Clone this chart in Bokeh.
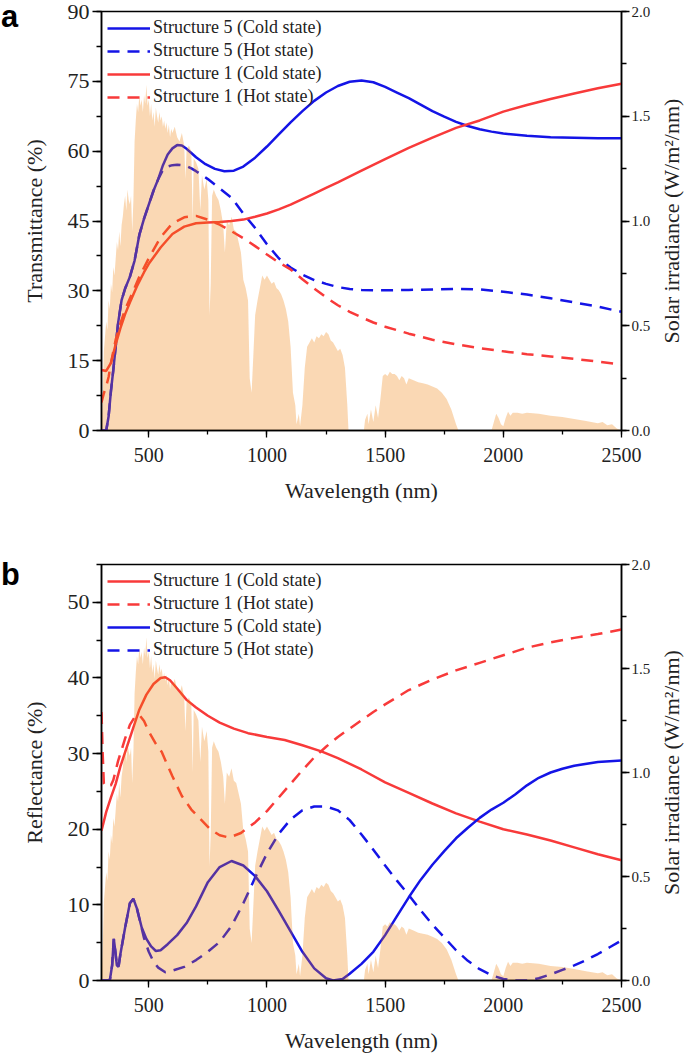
import math
from bokeh.plotting import figure
from bokeh.models import (Range1d, LinearAxis, SingleIntervalTicker, Label, Legend,
                          LegendItem, NumeralTickFormatter, Div)
from bokeh.layouts import column, row
from bokeh.embed import file_html
from bokeh.resources import INLINE

# ---------------- data ----------------
solar_wl = [
    300, 305, 310, 315, 320, 325, 330, 335, 340, 345,
    350, 355, 360, 365, 370, 375, 380, 385, 390, 395,
    400, 405, 410, 415, 420, 425, 430, 435, 440, 445,
    450, 455, 460, 465, 470, 475, 480, 485, 490, 495,
    500, 505, 510, 515, 520, 525, 530, 535, 540, 545,
    550, 555, 560, 565, 570, 575, 580, 585, 590, 595,
    600, 610, 620, 630, 640, 650, 655, 660, 670, 680,
    686, 690, 700, 710, 718, 725, 735, 745, 752, 757,
    762, 768, 775, 785, 795, 805, 815, 822, 830, 840,
    850, 860, 870, 880, 890, 900, 910, 920, 927, 935,
    942, 950, 960, 970, 980, 990, 1000, 1010, 1020, 1030,
    1040, 1050, 1060, 1070, 1080, 1090, 1100, 1110, 1120, 1125,
    1135, 1140, 1150, 1160, 1170, 1180, 1190, 1200, 1210, 1220,
    1230, 1240, 1250, 1260, 1270, 1280, 1290, 1300, 1310, 1320,
    1330, 1340, 1345, 1410, 1415, 1425, 1430, 1440, 1450, 1460,
    1470, 1480, 1490, 1500, 1510, 1520, 1530, 1540, 1550, 1560,
    1570, 1580, 1590, 1600, 1620, 1640, 1660, 1680, 1700, 1720,
    1740, 1760, 1780, 1800, 1810, 1950, 1960, 1970, 1980, 1990,
    2000, 2010, 2020, 2030, 2040, 2060, 2080, 2100, 2150, 2200,
    2250, 2300, 2350, 2400, 2420, 2440, 2460, 2480, 2500]
solar_irr = [
    0.00, 0.15, 0.38, 0.45, 0.52, 0.48, 0.62, 0.58, 0.70, 0.66,
    0.78, 0.74, 0.82, 0.90, 0.86, 0.95, 0.88, 0.98, 1.02, 1.08,
    1.12, 1.05, 1.15, 1.10, 1.08, 1.12, 0.95, 1.10, 1.38, 1.48,
    1.56, 1.52, 1.60, 1.55, 1.58, 1.52, 1.60, 1.56, 1.65, 1.55,
    1.58, 1.50, 1.56, 1.48, 1.52, 1.45, 1.54, 1.50, 1.47, 1.52,
    1.48, 1.50, 1.45, 1.48, 1.44, 1.47, 1.42, 1.46, 1.40, 1.44,
    1.42, 1.45, 1.40, 1.38, 1.42, 1.36, 1.20, 1.34, 1.36, 1.33,
    1.00, 1.30, 1.28, 1.25, 1.05, 1.22, 1.15, 1.20, 1.10, 0.55,
    0.70, 1.12, 1.15, 1.12, 1.10, 1.05, 0.98, 0.85, 1.00, 0.98,
    1.02, 0.96, 0.95, 0.90, 0.85, 0.72, 0.68, 0.62, 0.25, 0.18,
    0.35, 0.55, 0.62, 0.68, 0.74, 0.72, 0.74, 0.72, 0.70, 0.71,
    0.68, 0.67, 0.65, 0.62, 0.58, 0.52, 0.40, 0.18, 0.12, 0.03,
    0.08, 0.02, 0.12, 0.30, 0.40, 0.42, 0.44, 0.42, 0.45, 0.44,
    0.46, 0.45, 0.47, 0.46, 0.43, 0.42, 0.40, 0.38, 0.39, 0.36,
    0.30, 0.12, 0.00, 0.00, 0.05, 0.08, 0.03, 0.10, 0.04, 0.12,
    0.06, 0.15, 0.26, 0.27, 0.26, 0.28, 0.27, 0.27, 0.26, 0.24,
    0.26, 0.25, 0.22, 0.25, 0.24, 0.23, 0.225, 0.22, 0.21, 0.20,
    0.18, 0.15, 0.10, 0.03, 0.00, 0.00, 0.04, 0.08, 0.06, 0.03,
    0.02, 0.06, 0.09, 0.07, 0.085, 0.085, 0.08, 0.085, 0.08, 0.07,
    0.065, 0.055, 0.045, 0.035, 0.04, 0.025, 0.03, 0.01, 0.00]

# Panel a: transmittance (%)
t5_cold_wl = [300, 320, 330, 340, 350, 360, 370, 385, 400, 420,
              440, 460, 480, 500, 520, 540, 560, 580, 600, 620,
              640, 660, 680, 700, 740, 780, 820, 860, 900, 950,
              1000, 1050, 1100, 1150, 1200, 1250, 1300, 1350, 1400, 1450,
              1500, 1550, 1600, 1650, 1700, 1750, 1800, 1850, 1900, 1950,
              2000, 2100, 2200, 2300, 2400, 2500]
t5_cold = [0, 0, 3, 8.5, 13, 18, 23, 28, 30.5, 33,
           36.5, 42, 45.5, 48.5, 51.5, 54, 57, 59.3, 60.6, 61.3,
           61.2, 60.5, 59.6, 58.7, 57.2, 56.2, 55.7, 55.8, 56.7, 58.6,
           61, 63.6, 66.2, 68.6, 70.8, 72.6, 74, 74.9, 75.2, 74.8,
           73.8, 72.6, 71.4, 70, 68.6, 67.4, 66.3, 65.4, 64.7, 64.2,
           63.8, 63.3, 63.0, 62.9, 62.8, 62.8]

t5_hot_wl = [300, 320, 330, 340, 350, 360, 370, 385, 400, 420,
             440, 460, 480, 500, 520, 540, 560, 580, 600, 620,
             640, 660, 680, 700, 750, 800, 850, 900, 950, 1000,
             1050, 1100, 1150, 1200, 1250, 1300, 1350, 1400, 1500, 1600,
             1700, 1800, 1900, 2000, 2100, 2200, 2300, 2400, 2500]
t5_hot = [0, 0, 3, 8.5, 13, 18, 23, 28, 30.5, 33,
          36.5, 42, 45.5, 48.5, 51.5, 54, 56, 56.7, 57, 57.1,
          57, 56.8, 56.3, 55.7, 54, 52, 50, 46.6, 43.5, 40,
          37, 35, 33.5, 32.3, 31.5, 30.8, 30.4, 30.2, 30.1, 30.2,
          30.3, 30.4, 30.3, 29.8, 29.2, 28.4, 27.5, 26.6, 25.5]

t1_cold_wl = [300, 320, 340, 360, 380, 400, 420, 450, 480, 500,
              550, 600, 650, 700, 750, 800, 850, 900, 950, 1000,
              1050, 1100, 1150, 1200, 1250, 1300, 1400, 1500, 1600, 1700,
              1800, 1900, 2000, 2100, 2200, 2300, 2400, 2500]
t1_cold = [13, 12.8, 14.5, 18.5, 22, 25, 27.5, 31, 34, 35.8,
           39.3, 42.2, 43.8, 44.5, 44.7, 44.8, 45, 45.3, 45.9, 46.6,
           47.5, 48.5, 49.7, 50.9, 52.1, 53.3, 55.8, 58.3, 60.7, 62.9,
           65, 66.6, 68.5, 69.9, 71.2, 72.4, 73.5, 74.5]

t1_hot_wl = [300, 310, 320, 330, 340, 350, 360, 380, 400, 430,
             460, 500, 550, 600, 650, 700, 750, 800, 850, 900,
             950, 1000, 1050, 1100, 1150, 1200, 1250, 1300, 1350, 1400,
             1450, 1500, 1600, 1700, 1800, 1900, 2000, 2100, 2200, 2300,
             2400, 2500]
t1_hot = [6, 8, 9.5, 11.5, 14.5, 17, 19.5, 23, 26, 29.5,
          33, 37, 41.5, 44.5, 45.8, 46.1, 45.3, 44.2, 42.8, 41.3,
          39.6, 37.8, 36.1, 34.6, 32.5, 30.5, 28.6, 26.9, 25.5, 24.3,
          23.2, 22.3, 20.8, 19.5, 18.5, 17.7, 17.0, 16.4, 15.9, 15.4,
          14.8, 14.2]

# Panel b: reflectance (%)
r1_cold_wl = [300, 320, 340, 360, 380, 400, 430, 460, 490, 520,
              550, 570, 590, 620, 660, 700, 750, 800, 860, 920,
              1000, 1075, 1150, 1230, 1300, 1400, 1500, 1600, 1700, 1800,
              1900, 2000, 2100, 2200, 2300, 2400, 2500]
r1_cold = [19.8, 22.3, 24.2, 26, 28.3, 30.2, 33, 35.8, 37.8, 39.2,
           40, 40.1, 39.7, 38.6, 37.1, 36.1, 35, 34.1, 33.3, 32.7,
           32.2, 31.8, 31.1, 30.3, 29.4, 27.9, 26.2, 24.8, 23.4, 22.1,
           21, 20, 19.3, 18.5, 17.6, 16.7, 15.9]

r1_hot_wl = [300, 305, 310, 320, 340, 350, 370, 400, 420, 440,
             460, 480, 500, 530, 555, 600, 640, 680, 720, 760,
             800, 840, 890, 950, 1000, 1050, 1100, 1150, 1200, 1250,
             1300, 1350, 1400, 1450, 1500, 1600, 1700, 1800, 1900, 2000,
             2100, 2200, 2300, 2400, 2500]
r1_hot = [35.5, 30, 26, 25.6, 25.8, 26.5, 29, 32, 33.8, 34.8,
          35.1, 34.3, 32.9, 31.3, 30.2, 27, 24.4, 22.6, 21.3, 20,
          19.2, 18.9, 19.5, 20.9, 22.4, 24.2, 26, 27.8, 29.5, 30.9,
          32.2, 33.3, 34.4, 35.5, 36.5, 38.4, 39.8, 41, 42, 43,
          44, 44.7, 45.3, 45.8, 46.4]

r5_cold_wl = [300, 335, 345, 352, 358, 365, 372, 380, 400, 420,
              435, 450, 470, 490, 510, 530, 550, 580, 620, 660,
              700, 750, 800, 850, 900, 950, 1000, 1050, 1100, 1150,
              1200, 1250, 1280, 1320, 1350, 1400, 1450, 1500, 1550, 1600,
              1650, 1700, 1750, 1800, 1850, 1900, 1950, 2000, 2050, 2100,
              2150, 2200, 2250, 2300, 2400, 2500]
r5_cold = [0, 0, 2, 5.5, 4, 2, 1.8, 3.5, 7, 10.2,
           10.8, 9.5, 7, 5.5, 4.5, 3.9, 4, 4.8, 6, 7.6,
           9.8, 13, 15, 15.8, 15.2, 13.8, 11.8, 9.2, 6.5, 3.8,
           1.6, 0.3, 0, 0.2, 0.9, 2.2, 3.8, 6, 8.5, 11,
           13.3, 15.3, 17.1, 18.8, 20.2, 21.5, 22.6, 23.5, 24.6, 25.8,
           26.8, 27.5, 28, 28.4, 28.9, 29.1]

r5_hot_wl = [300, 335, 345, 352, 358, 365, 372, 380, 400, 420,
             435, 450, 460, 480, 500, 520, 540, 570, 600, 650,
             700, 750, 800, 850, 900, 950, 1000, 1050, 1100, 1150,
             1200, 1250, 1300, 1350, 1400, 1450, 1500, 1550, 1600, 1650,
             1700, 1750, 1800, 1850, 1900, 1950, 2000, 2050, 2100, 2150,
             2200, 2250, 2300, 2350, 2400, 2450, 2500]
r5_hot = [0, 0, 2, 5.5, 4, 2, 1.8, 3.5, 7, 10.2,
          10.8, 9.5, 8.2, 5.6, 3.8, 2.5, 1.7, 1.1, 1.3, 1.8,
          2.7, 3.8, 5.1, 7.2, 10.2, 13.6, 16.8, 19.4, 21.3, 22.5,
          23, 23, 22.5, 21.2, 19.3, 17.3, 15.2, 13.2, 11.3, 9.3,
          7.4, 5.7, 4, 2.6, 1.5, 0.7, 0.2, 0, 0, 0.3,
          0.8, 1.4, 2, 2.7, 3.5, 4.4, 5.3]

legend_a = ["Structure 5 (Cold state)", "Structure 5 (Hot state)",
            "Structure 1 (Cold state)", "Structure 1 (Hot state)"]
legend_b = ["Structure 1 (Cold state)", "Structure 1 (Hot state)",
            "Structure 5 (Cold state)", "Structure 5 (Hot state)"]

# ---------------- style ----------------
SERIF = "Liberation Serif"
BLUE = "#1414E6"
RED = "#F83A3A"
SUN = "#F07D05"
DASH = "12 8"
X0, X1 = 300, 2500
FRAME_W, FRAME_H = 522, 419
LETTER_W = 18          # strip holding the panel letter
MAIN_BL = 82           # left border of main plot (axis area)
MAIN_BR = 31           # right border of main plot (right tick labels)
MAIN_W = MAIN_BL + FRAME_W + MAIN_BR
TITLE_W = 685 - LETTER_W - MAIN_W   # strip holding the right-hand title
RIGHT_LABEL = "Solar irradiance (W/m\u00b2/nm)"


def style_axis(ax, tick_size, label_size="22px"):
    ax.axis_line_color = "black"
    ax.axis_line_width = 1.5
    ax.major_tick_line_color = "black"
    ax.minor_tick_line_color = "black"
    ax.major_tick_line_width = 1.3
    ax.minor_tick_line_width = 1.3
    ax.major_tick_in = 0
    ax.minor_tick_in = 0
    ax.major_label_text_font = SERIF
    ax.major_label_text_font_size = tick_size
    ax.major_label_text_color = "#222222"
    ax.axis_label_text_font = SERIF
    ax.axis_label_text_font_size = label_size
    ax.axis_label_text_font_style = "normal"
    ax.axis_label_text_color = "#222222"


def title_strip(width, height):
    # its frame lines up with the main plot's frame inside the row
    f = figure(width=width, height=height, x_range=Range1d(0, 1),
               y_range=Range1d(0, 1), output_backend="svg",
               toolbar_location=None, x_axis_type=None, y_axis_type=None,
               min_border=0)
    f.outline_line_color = None
    f.xgrid.visible = False
    f.ygrid.visible = False
    f.background_fill_color = "white"
    f.border_fill_color = "white"
    f.add_layout(Label(x=0.5, y=0.5, text=RIGHT_LABEL, angle=math.pi / 2,
                       x_offset=width / 2 - 14,
                       text_font=SERIF, text_font_size="22px",
                       text_color="#222222", text_align="center",
                       text_baseline="middle"))
    return f


def panel(letter, letter_pad, ylabel, ymax, yint, series, labels, height, top, bottom):
    p = figure(width=MAIN_W, height=height, x_range=Range1d(X0, X1),
               y_range=Range1d(0, ymax), output_backend="svg",
               toolbar_location=None, min_border_left=MAIN_BL,
               min_border_right=MAIN_BR, min_border_top=top,
               min_border_bottom=bottom)
    p.xgrid.visible = False
    p.ygrid.visible = False
    p.outline_line_color = "black"
    p.outline_line_width = 1.5
    p.background_fill_color = "white"
    p.border_fill_color = "white"
    p.extra_y_ranges = {"solar": Range1d(0, 2.0)}

    p.xaxis.ticker = SingleIntervalTicker(interval=500, num_minor_ticks=2)
    p.yaxis.ticker = SingleIntervalTicker(interval=yint, num_minor_ticks=2)
    p.xaxis.axis_label = "Wavelength (nm)"
    p.yaxis.axis_label = ylabel
    style_axis(p.xaxis[0], "20px")
    style_axis(p.yaxis[0], "22px")
    p.xaxis.major_tick_out = 7
    p.xaxis.minor_tick_out = 4
    p.xaxis.major_label_standoff = 10
    p.xaxis.axis_label_standoff = 13
    p.yaxis.major_tick_out = 9
    p.yaxis.minor_tick_out = 5
    p.yaxis.major_label_standoff = 3
    p.yaxis.axis_label_standoff = 18

    rax = LinearAxis(y_range_name="solar",
                     ticker=SingleIntervalTicker(interval=0.5, num_minor_ticks=2),
                     formatter=NumeralTickFormatter(format="0.0"))
    style_axis(rax, "15px")
    rax.major_tick_out = 8
    rax.minor_tick_out = 5
    rax.major_label_standoff = 2
    p.add_layout(rax, "right")

    rends = []
    for wl, vals, color, dash in series:
        r = p.line(wl, vals, line_color=color, line_width=2.5, line_dash=dash)
        rends.append(r)

    # solar spectrum drawn translucent on top of the curves
    p.varea(x=solar_wl, y1=0, y2=solar_irr, y_range_name="solar",
            fill_color=SUN, fill_alpha=0.3)

    leg = Legend(items=[LegendItem(label=l, renderers=[r]) for l, r in zip(labels, rends)],
                 location="top_left")
    leg.border_line_color = None
    leg.background_fill_alpha = 0
    leg.label_text_font = SERIF
    leg.label_text_font_size = "18px"
    leg.label_text_color = "#222222"
    leg.glyph_width = 43
    leg.glyph_height = 20
    leg.label_height = 20
    leg.spacing = 2
    leg.padding = 2
    leg.margin = 6
    leg.label_standoff = 3
    p.add_layout(leg)

    # left strip: panel letter as HTML text
    lf = Div(text=letter, width=LETTER_W, height=height,
             styles={"font-family": "'Liberation Sans', Arial, sans-serif",
                     "font-weight": "bold", "font-size": "31px",
                     "line-height": "31px", "color": "black",
                     "box-sizing": "border-box", "overflow": "visible",
                     "padding-top": f"{letter_pad}px", "padding-left": "1px",
                     "margin": "0px"})
    rf = title_strip(TITLE_W, height)
    return row(lf, p, rf, spacing=0)


pa = panel("a", 1, "Transmittance (%)", 90, 15,
           [(t5_cold_wl, t5_cold, BLUE, "solid"),
            (t5_hot_wl, t5_hot, BLUE, DASH),
            (t1_cold_wl, t1_cold, RED, "solid"),
            (t1_hot_wl, t1_hot, RED, DASH)],
           legend_a, height=515, top=11, bottom=85)

pb = panel("b", 44, "Reflectance (%)", 55, 10,
           [(r1_cold_wl, r1_cold, RED, "solid"),
            (r1_hot_wl, r1_hot, RED, DASH),
            (r5_cold_wl, r5_cold, BLUE, "solid"),
            (r5_hot_wl, r5_hot, BLUE, DASH)],
           legend_b, height=540, top=49, bottom=72)

layout = column(pa, pb, spacing=0)
open("out.html", "w").write(file_html(layout, INLINE))
